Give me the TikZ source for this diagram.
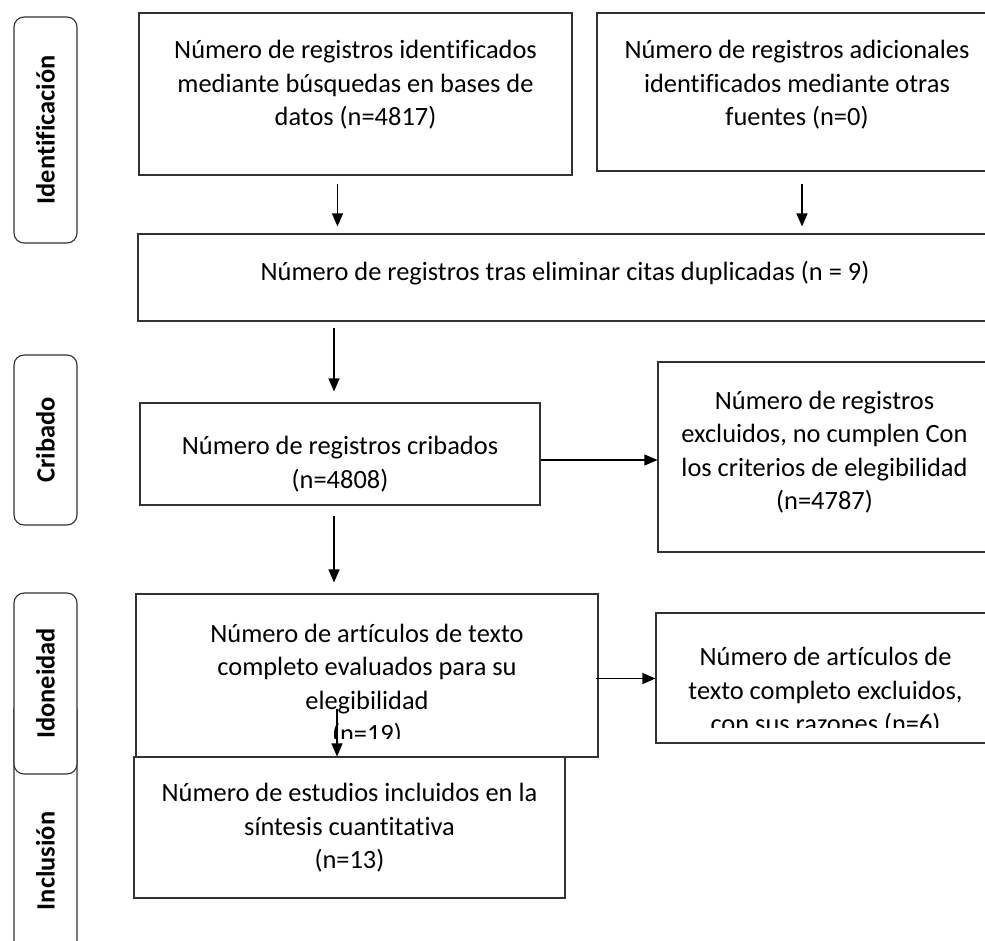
\documentclass[tikz,border=0pt]{standalone}
\usepackage{fontspec}
\setmainfont{Carlito}[Ligatures=NoCommon]
\usetikzlibrary{positioning,arrows.meta}
\definecolor{linegray}{RGB}{50,50,50}
\newcommand\boxfont{\fontsize{26.4}{33.5}\selectfont}
\tikzset{
  arrow/.style={-{Triangle[length=13pt,width=11pt]}, line width=1.1pt, draw=black},
  block/.style={
    draw=linegray,
    fill=white,
    rectangle,
    line width=1.1pt,
    inner sep=0pt
  },
  boxtext/.style={align=center, inner sep=0pt, font=\boxfont, text=black},
  stage/.style={
    draw=linegray,
    fill=white,
    rectangle,
    rounded corners=10pt,
    line width=1.1pt,
    rotate=90,
    minimum height=63pt,
    inner sep=0pt,
    font=\boxfont\bfseries
  }
}
\begin{document}
\begin{tikzpicture}[x=1pt, y=-1pt]
\path[use as bounding box] (0,0) rectangle (985,940);
\clip (0,0) rectangle (985,940);

% Stages
\node[stage, minimum width=322pt] (sincl) at (45.5,861) {Inclusión};
\node[stage, minimum width=226pt] (sident) at (45.5,130) {Identificación};
\node[stage, minimum width=170pt] (scrib) at (45.5,440) {Cribado};
\node[stage, minimum width=181pt] (sidon) at (45.5,683.5) {Idoneidad};

% Identification
\node[block, minimum width=433pt, minimum height=162pt] (dbase) at (355.5,94) {};
\node[boxtext] (dbasetxt) at (355.5,85) {Número de registros identificados\\mediante búsquedas en bases de\\datos (n=4817)};
\node[block, minimum width=400pt, minimum height=158pt] (other) at (797,92) {};
\node[boxtext] (othertxt) at (797,85) {Número de registros adicionales\\identificados mediante otras\\fuentes (n=0)};

% Duplicates
\node[block, minimum width=854pt, minimum height=87pt] (dupl) at (565,277.5) {};
\node[boxtext] (dupltxt) at (565,273) {Número de registros tras eliminar citas duplicadas (n = 9)};

% Screening
\node[block, minimum width=400pt, minimum height=102pt] (screen) at (340,454) {};
\node[boxtext] (screentxt) at (340,464) {Número de registros cribados\\(n=4808)};
\node[block, minimum width=333pt, minimum height=190pt] (excl) at (824.5,457) {};
\node[boxtext] (excltxt) at (824.5,452) {Número de registros\\excluidos, no cumplen Con\\los criterios de elegibilidad\\(n=4787)};

% Eligibility
\node[block, minimum width=462pt, minimum height=163pt] (elig) at (367,675.5) {};
\begin{scope}
  \clip (136,594) rectangle (598,738);
  \node[boxtext] (eligtxt) at (367,685) {Número de artículos de texto\\completo evaluados para su\\elegibilidad\\(n=19)};
\end{scope}
\node[block, minimum width=339pt, minimum height=130pt] (fullex) at (825.5,678) {};
\begin{scope}
  \clip (656,613) rectangle (995,727);
  \node[boxtext] (fullextxt) at (825.5,692) {Número de artículos de\\texto completo excluidos,\\con sus razones (n=6)};
\end{scope}

% Inclusion
\node[block, minimum width=431pt, minimum height=141pt] (incl) at (349.5,827.5) {};
\node[boxtext] (incltxt) at (349.5,828) {Número de estudios incluidos en la\\síntesis cuantitativa\\(n=13)};

% Connections
\draw[arrow] ([xshift=-18pt,yshift=-8pt]dbase.south) -- ([xshift=-18pt,yshift=7pt]dbase.south |- dupl.north);
\draw[arrow] ([xshift=5pt,yshift=-12pt]other.south) -- ([xshift=5pt,yshift=7pt]other.south |- dupl.north);
\draw[arrow] ([xshift=-6pt,yshift=-6pt]screen.north |- dupl.south) -- ([xshift=-6pt,yshift=11pt]screen.north);
\draw[arrow] ([yshift=-6pt]screen.east) -- ([yshift=-6pt]screen.east -| excl.west);
\draw[arrow] ([xshift=-6pt,yshift=-10pt]screen.south) -- ([xshift=-6pt,yshift=11pt]screen.south |- elig.north);
\draw[arrow] ([xshift=-3pt,yshift=-3pt]elig.east) -- ([yshift=-3pt]elig.east -| fullex.west);
\draw[arrow] ([xshift=-30pt,yshift=49pt]elig.south) -- ([xshift=-30pt]elig.south |- incl.north);

\end{tikzpicture}
\end{document}
